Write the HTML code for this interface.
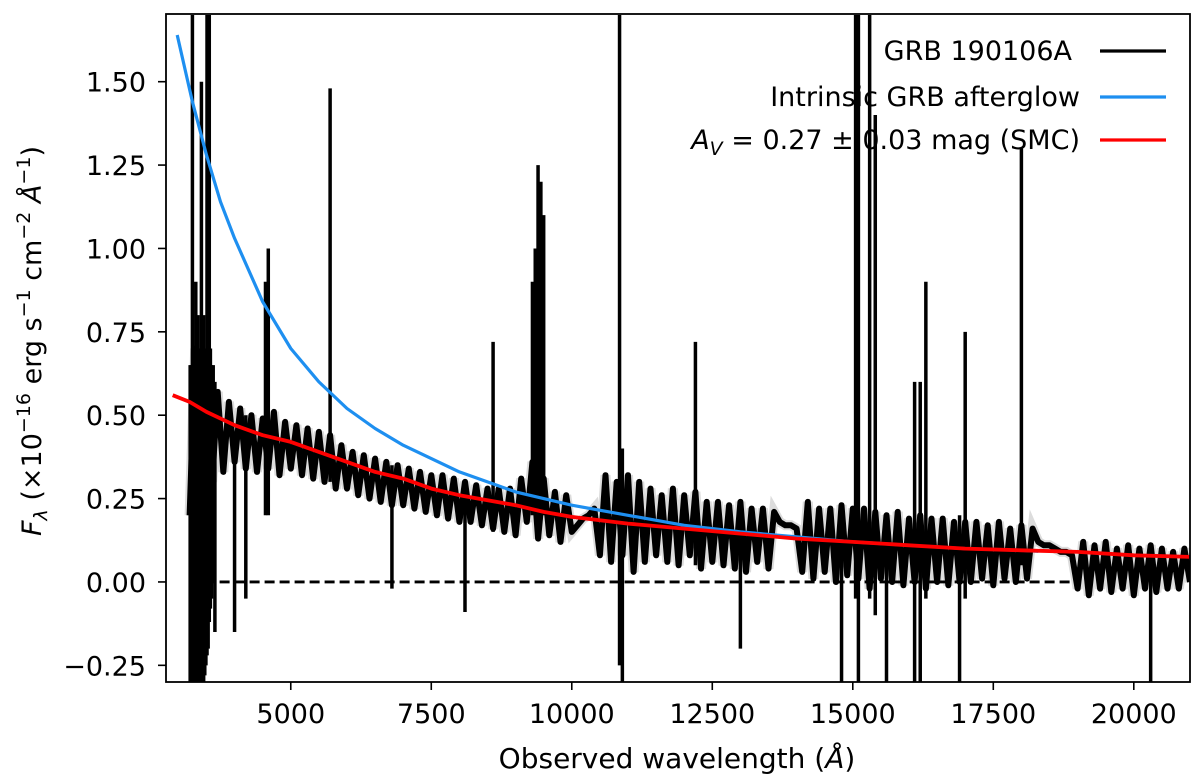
<!DOCTYPE html>
<html><head><meta charset="utf-8">
<style>
body{margin:0;background:#fff;}
svg{display:block;font-family:"DejaVu Sans","Liberation Sans",sans-serif;}
</style></head>
<body>
<svg id="chart" width="1200" height="779" viewBox="0 0 1200 779">
<defs><clipPath id="clip"><rect x="166" y="14" width="1024" height="668"/></clipPath></defs>
<g id="plot" clip-path="url(#clip)"></g>
<rect x="166" y="14" width="1024" height="668" fill="none" stroke="#000" stroke-width="1.8"/>
<g id="axes"></g>
<text x="677" y="768" font-size="28" text-anchor="middle">Observed wavelength (<tspan font-style="italic">Å</tspan>)</text>
<text transform="translate(41,341) rotate(-90)" font-size="27" text-anchor="middle"><tspan font-style="italic">F</tspan><tspan font-style="italic" font-size="19" dy="6">λ</tspan><tspan dy="-6"> (×10</tspan><tspan font-size="19" dy="-11">−16</tspan><tspan dy="11"> erg s</tspan><tspan font-size="19" dy="-11">−1</tspan><tspan dy="11"> cm</tspan><tspan font-size="19" dy="-11">−2</tspan><tspan dy="11"> </tspan><tspan font-style="italic">Å</tspan><tspan font-size="19" dy="-11">−1</tspan><tspan dy="11">)</tspan></text>
<g>
<text x="1072" y="60" font-size="27" text-anchor="end">GRB 190106A</text>
<line x1="1100" y1="51" x2="1166" y2="51" stroke="#000" stroke-width="3.2"/>
<text x="1080" y="106" font-size="27" text-anchor="end">Intrinsic GRB afterglow</text>
<line x1="1100" y1="97" x2="1166" y2="97" stroke="#1e8ff0" stroke-width="3.2"/>
<text x="1080" y="149" font-size="27" text-anchor="end"><tspan font-style="italic">A</tspan><tspan font-style="italic" font-size="19" dy="6">V</tspan><tspan dy="-6"> = 0.27 ± 0.03 mag (SMC)</tspan></text>
<line x1="1100" y1="140" x2="1166" y2="140" stroke="#f00" stroke-width="3.2"/>
</g>
</svg>
<script>
const xTicks=[5000,7500,10000,12500,15000,17500,20000];
const yTicks=[-0.25,0,0.25,0.5,0.75,1.0,1.25,1.5];
const specStart=3200, specStep=100;
const specFlux=[0.2,0.7,0.1,0.6,0.3,
0.57,0.33,0.54,0.36,0.52,0.34,0.5,0.33,0.49,
0.34,0.51,0.32,0.48,0.34,0.47,0.32,0.46,0.31,0.45,
0.3,0.44,0.28,0.41,0.28,0.39,0.26,0.38,0.25,0.37,
0.24,0.36,0.23,0.35,0.23,0.34,0.22,0.33,0.21,0.32,
0.2,0.32,0.19,0.31,0.18,0.3,0.18,0.29,0.17,0.28,
0.16,0.28,0.15,0.28,0.14,0.31,0.18,0.36,0.13,0.31,
0.14,0.27,0.12,0.26,0.15,
0.17,0.19,0.2,0.22,
0.08,0.32,0.06,0.3,0.08,0.32,0.03,0.3,0.06,0.28,0.08,
0.26,0.06,0.28,0.05,0.26,0.08,0.27,0.04,0.24,0.06,
0.24,0.05,0.23,0.04,0.24,0.03,0.22,0.06,0.22,0.04,0.21,
0.18,0.17,0.17,0.16,
0.03,0.24,0.01,0.22,0.03,0.22,0.0,0.23,0.02,0.22,
0.01,0.22,-0.02,0.21,0.01,0.2,0.0,0.21,-0.01,0.19,
0.0,0.2,-0.02,0.19,0.0,0.19,-0.01,0.18,0.0,0.18,
0.0,0.18,0.01,0.17,-0.01,0.18,0.01,0.16,0.0,0.17,
0.01,0.16,
0.12,0.11,0.11,0.1,0.09,0.09,0.08,
-0.02,0.12,-0.04,0.11,-0.02,0.12,-0.03,0.1,-0.02,0.11,-0.04,
0.1,-0.02,0.11,-0.03,0.1,-0.02,0.09,-0.02,0.1,0.0];
const spikeWl=[3210,3230,3250,3270,3290,3310,3330,3350,3370,3390,3410,3430,3450,3470,3490,3510,3530,3550,3570,3590,3620,3650,4000,4200,4550,4600,5700,6800,8100,8600,9300,9350,9400,9450,9500,10850,10900,12200,13000,14800,15050,15100,15300,15400,15600,16100,16200,16300,16900,17000,18000,20300];
const spikeTop=[0.65,0.65,1.7,0.7,0.7,0.9,0.7,0.8,0.7,0.7,1.5,0.7,0.8,0.7,0.7,1.7,0.7,1.7,0.7,0.65,0.65,0.6,0.45,0.5,0.9,1.0,1.48,0.35,0.3,0.72,0.9,1.0,1.25,1.2,1.1,1.7,0.4,0.72,0.2,0.2,1.7,1.7,1.7,1.4,0.2,0.6,0.6,0.9,0.2,0.75,1.3,0.1];
const spikeBot=[-0.3,-0.3,-0.3,-0.3,-0.3,-0.3,-0.3,-0.3,-0.3,-0.3,-0.3,-0.3,-0.3,-0.28,-0.25,-0.22,-0.2,-0.12,-0.08,-0.05,0.0,-0.15,-0.15,-0.05,0.2,0.2,0.3,-0.02,-0.09,0.15,0.2,0.2,0.2,0.2,0.2,-0.25,-0.3,0.05,-0.2,-0.3,-0.05,-0.3,-0.05,-0.1,-0.3,-0.3,-0.3,-0.05,-0.3,-0.05,0.05,-0.3];
const blueWl=[2980,3250,3500,3750,4000,4500,5000,5500,6000,6500,7000,7500,8000,8500,9000,9500,10000,11000,12000,13000,14000,15000,16000,17000,18000,18300];
const blueFlux=[1.64,1.44,1.28,1.14,1.03,0.84,0.70,0.60,0.52,0.46,0.41,0.37,0.33,0.30,0.27,0.25,0.23,0.20,0.17,0.15,0.135,0.12,0.11,0.10,0.095,0.092];
const redWl=[2900,3200,3500,4000,4500,5000,5500,6000,6500,7000,7500,8000,8500,9000,9500,10000,11000,12000,13000,14000,15000,16000,17000,18000,19000,20000,21000];
const redFlux=[0.56,0.54,0.51,0.47,0.44,0.42,0.39,0.36,0.33,0.31,0.28,0.26,0.245,0.23,0.21,0.195,0.175,0.16,0.145,0.13,0.12,0.11,0.10,0.095,0.09,0.08,0.075];

const X0=2780,X1=21000,Y0=-0.3,Y1=1.703,L=166,R=1190,T=14,B=682;
const sx=v=>L+(v-X0)/(X1-X0)*(R-L);
const sy=v=>B-(v-Y0)/(Y1-Y0)*(B-T);
const NS="http://www.w3.org/2000/svg";
const plot=document.getElementById('plot'), axes=document.getElementById('axes');
function mk(tag,attrs,parent){const e=document.createElementNS(NS,tag);for(const k in attrs)e.setAttribute(k,attrs[k]);parent.appendChild(e);return e;}

let gp=specFlux.map((f,i)=>sx(specStart+i*specStep).toFixed(1)+','+sy(f).toFixed(1)).join(' ');
const under=mk('polyline',{points:gp,fill:'none',stroke:'#dcdcdc','stroke-width':10},plot);


const zl=mk('line',{x1:sx(3200),x2:sx(19000),y1:sy(0),y2:sy(0),stroke:'#000','stroke-width':2.8,'stroke-dasharray':'10,5'},plot);


spikeWl.forEach((w,i)=>{
 const s=mk('line',{x1:sx(w),x2:sx(w),y1:sy(spikeTop[i]),y2:sy(spikeBot[i]),stroke:'#000','stroke-width':3.5},plot);
 
 
});
const sp=mk('polyline',{points:gp,fill:'none',stroke:'#000','stroke-width':6,'stroke-linejoin':'round'},plot);


const bl=mk('polyline',{points:blueWl.map((w,i)=>sx(w).toFixed(1)+','+sy(blueFlux[i]).toFixed(1)).join(' '),fill:'none',stroke:'#1e8ff0','stroke-width':3.2,'stroke-linejoin':'round'},plot);


const rl=mk('polyline',{points:redWl.map((w,i)=>sx(w).toFixed(1)+','+sy(redFlux[i]).toFixed(1)).join(' '),fill:'none',stroke:'#f00','stroke-width':3.8,'stroke-linejoin':'round'},plot);



xTicks.forEach(t=>{
 const l=mk('line',{x1:sx(t),x2:sx(t),y1:B,y2:B+8,stroke:'#000','stroke-width':1.6},axes);
 
 
 const tx=mk('text',{x:sx(t),y:B+41,'font-size':27,'text-anchor':'middle'},axes);
 tx.textContent=String(t);
 
 
});
yTicks.forEach(t=>{
 const l=mk('line',{x1:L-8,x2:L,y1:sy(t),y2:sy(t),stroke:'#000','stroke-width':1.6},axes);
 
 
 const tx=mk('text',{x:L-20,y:sy(t)+10,'font-size':27,'text-anchor':'end'},axes);
 tx.textContent=(t<0?'−':'')+Math.abs(t).toFixed(2);
 
 
});
</script>
</body></html>
